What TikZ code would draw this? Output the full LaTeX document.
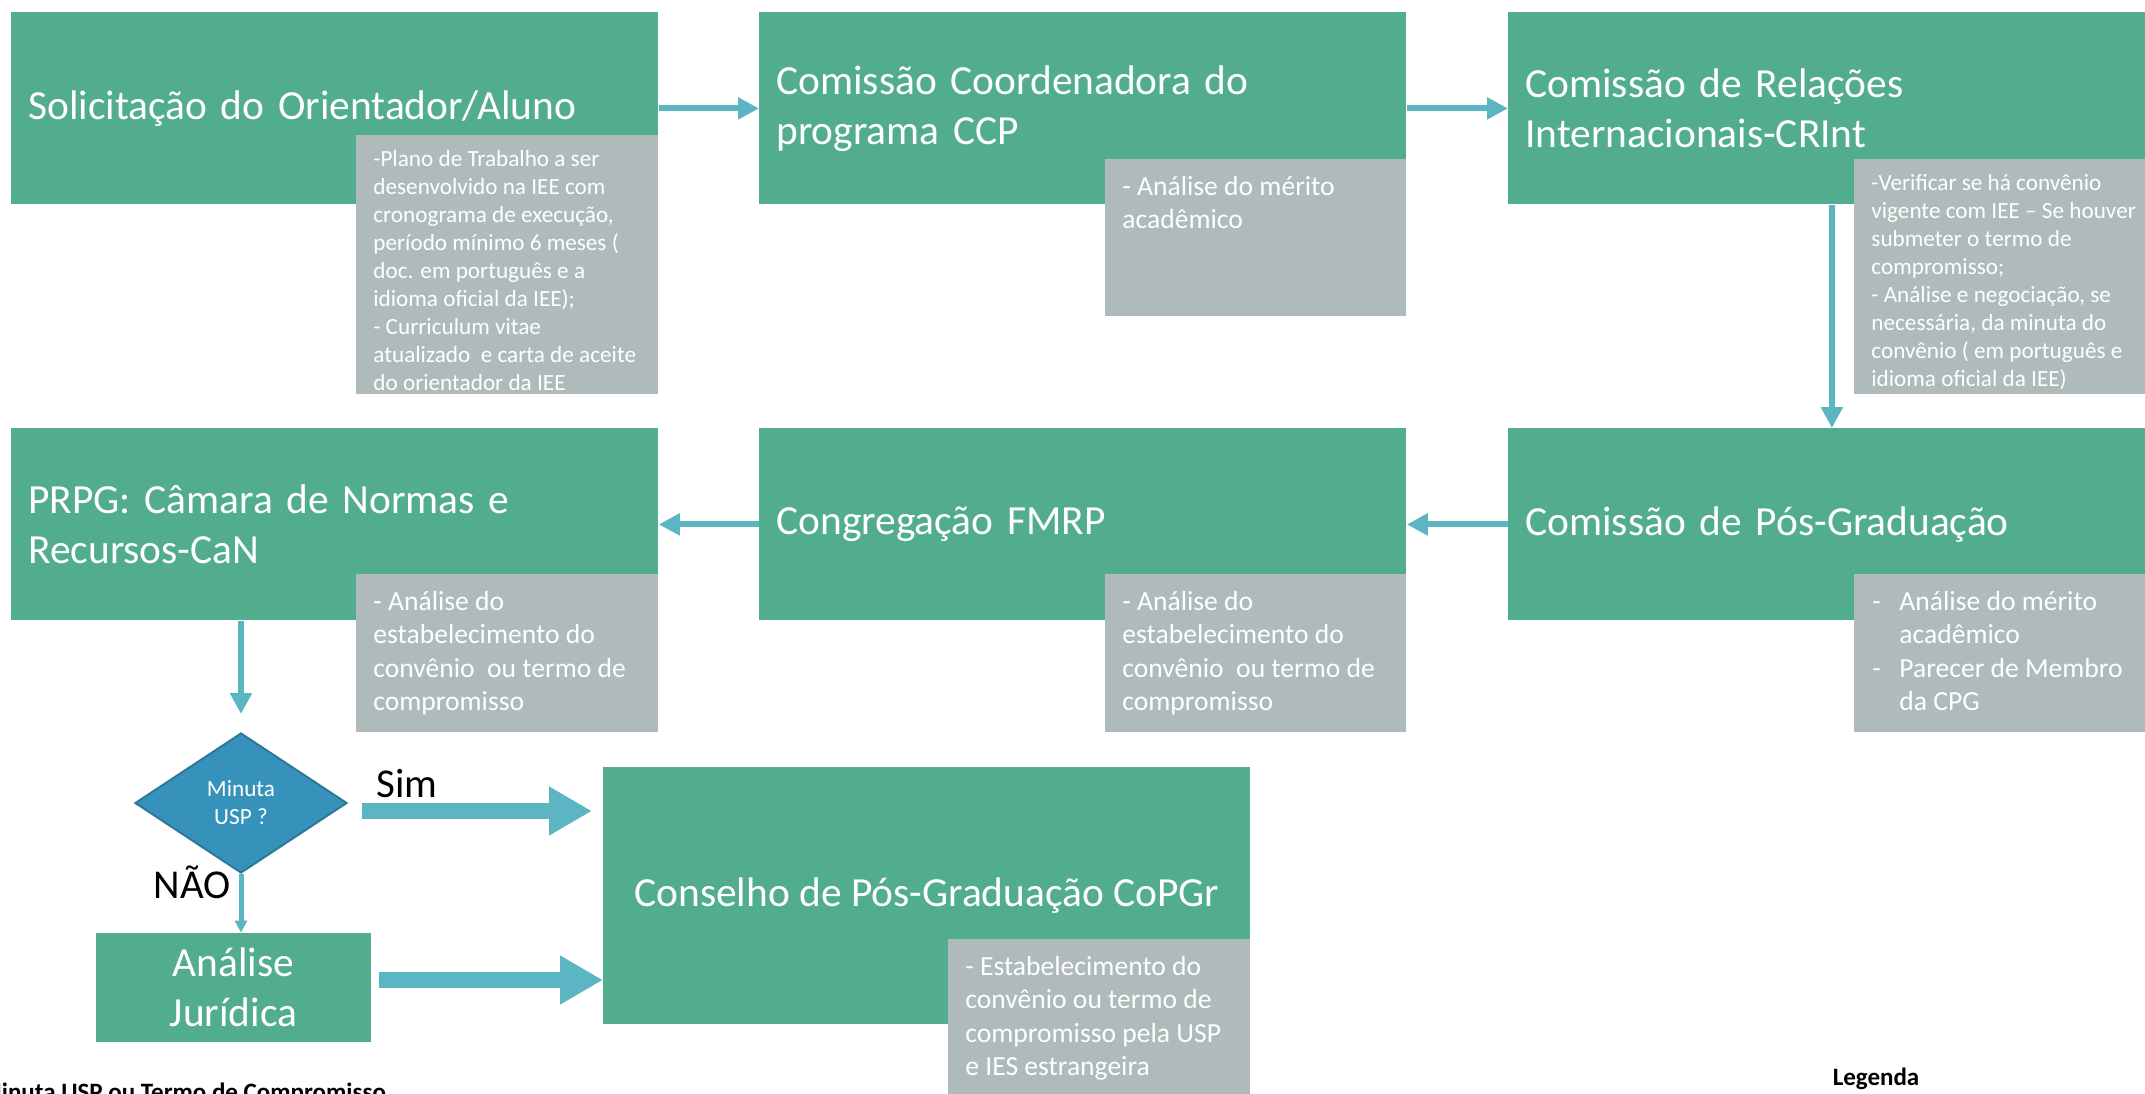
\documentclass[tikz,border=0pt]{standalone}
\usepackage{fontspec}
\setmainfont{Carlito}
\usetikzlibrary{shapes.geometric}
\usetikzlibrary{arrows.meta}
\usepackage{xcolor}

\definecolor{boxgreen}{RGB}{82,173,143}
\definecolor{notegray}{RGB}{175,186,186}
\definecolor{flowblue}{RGB}{91,181,194}
\definecolor{askblue}{RGB}{54,146,186}
\definecolor{askedge}{RGB}{44,120,154}

\newcommand{\dashitem}{\makebox[13.5pt][l]{-}}
\newcommand{\dashgap}{\hspace*{13.5pt}}

\tikzset{
  stage/.style={fill=boxgreen, text=white, anchor=north west, align=left,
    inner xsep=8.5pt, inner ysep=0pt, minimum height=96pt,
    font=\fontsize{20.7}{25}\selectfont},
  notebox/.style={fill=notegray, anchor=north west, inner sep=0pt},
  notetext/.style={text=white, anchor=north west, align=left,
    inner xsep=8.5pt, inner ysep=7.5pt},
  smallnote/.style={font=\fontsize{11.6}{14}\selectfont},
  largenote/.style={inner ysep=8.3pt, font=\fontsize{13.8}{16.8}\selectfont},
  flow/.style={draw=flowblue, line width=3pt,
    -{Triangle[length=10.5pt,width=10.5pt]}},
  bigflow/.style={draw=flowblue, line width=8pt,
    -{Triangle[length=21.5pt,width=23pt]}},
  answer/.style={anchor=base, font=\fontsize{20.5}{24}\selectfont},
  legendtext/.style={font=\fontsize{12.5}{15}\selectfont\bfseries}
}

\begin{document}
\begin{tikzpicture}[x=0.5pt,y=-0.5pt]
\useasboundingbox (0,0) rectangle (2145,1093);
\clip (0,0) rectangle (2145,1093);

% first row
\node[stage, text width=306.5pt] (b1) at (11,12) {Solicitação do Orientador/Aluno};
\node[stage, text width=306.5pt] (b2) at (759,12) {Comissão Coordenadora do\\programa CCP};
\node[stage, text width=306.5pt] (b3) at (1508,12) {Comissão de Relações\\Internacionais-CRInt};

\node[notebox, minimum width=151pt, minimum height=129.5pt] (g1) at (356,135) {};
\node[notetext, smallnote] (g1t) at (g1.north west) {-Plano de Trabalho a ser\\desenvolvido na IEE com\\cronograma de execução,\\período mínimo 6 meses (\\doc. em português e a\\idioma oficial da IEE);\\- Curriculum vitae\\atualizado\ \ e carta de aceite\\do orientador da IEE};
\node[notebox, minimum width=150.5pt, minimum height=78.5pt] (g2) at (1105,159) {};
\node[notetext, largenote] (g2t) at (g2.north west) {- Análise do mérito\\acadêmico};
\node[notebox, minimum width=150.5pt, minimum height=117.5pt] (g3) at (1854,159) {};
\node[notetext, smallnote] (g3t) at (g3.north west) {-Verificar se há convênio\\vigente com IEE – Se houver\\submeter o termo de\\compromisso;\\- Análise e negociação, se\\necessária, da minuta do\\convênio ( em português e\\idioma oficial da IEE)};

% second row
\node[stage, text width=306.5pt] (b4) at (11,428) {PRPG: Câmara de Normas e\\Recursos-CaN};
\node[stage, text width=306.5pt] (b5) at (759,428) {Congregação FMRP};
\node[stage, text width=306.5pt] (b6) at (1508,428) {Comissão de Pós-Graduação};

\node[notebox, minimum width=151pt, minimum height=79pt] (g4) at (356,574) {};
\node[notetext, largenote] (g4t) at (g4.north west) {- Análise do\\estabelecimento do\\convênio\ \ ou termo de\\compromisso};
\node[notebox, minimum width=150.5pt, minimum height=79pt] (g5) at (1105,574) {};
\node[notetext, largenote] (g5t) at (g5.north west) {- Análise do\\estabelecimento do\\convênio\ \ ou termo de\\compromisso};
\node[notebox, minimum width=150.5pt, minimum height=79pt] (g6) at (1854,574) {};
\node[notetext, largenote, inner xsep=9pt] (g6t) at (g6.north west) {\dashitem Análise do mérito\\\dashgap acadêmico\\\dashitem Parecer de Membro\\\dashgap da CPG};

% decision and last stage
\node[diamond, fill=askblue, draw=askedge, line width=1pt, text=white, align=center,
  inner sep=0pt, minimum width=106pt, minimum height=70pt, smallnote] (ask) at (241,803) {Minuta\\USP ?};
\node[stage, anchor=center, align=center, inner sep=0pt,
  minimum width=137.5pt, minimum height=54.5pt] (jur) at (233.5,987.5) {Análise\\Jurídica};
\node[stage, align=center, inner sep=0pt,
  minimum width=323.5pt, minimum height=128.5pt] (cop) at (603,767) {Conselho de Pós-Graduação CoPGr};
\node[notebox, minimum width=151pt, minimum height=79pt] (g7) at (948,939) {};
\node[notetext, largenote] (g7t) at (g7.north west) {- Estabelecimento do\\convênio ou termo de\\compromisso pela USP\\e IES estrangeira};

\node[answer] (sim) at (407,797) {Sim};
\node[answer] (nao) at (192,898) {NÃO};

\node[legendtext, anchor=base west] (minuta) at (-27,1100) {Minuta USP ou Termo de Compromisso};
\node[legendtext, anchor=base] (legenda) at (1876,1085) {Legenda};

% connectors
\draw[flow] (b1.east) -- (b2.west);
\draw[flow] (b2.east) -- (b3.west);
\draw[flow] (b3.south) -- (b6.north);
\draw[flow] (b6.west) -- (b5.east);
\draw[flow] (b5.west) -- (b4.east);
\draw[flow, shorten >=9pt] (b4.south -| ask.north) -- (ask.north);
\draw[flow, line width=2.5pt, -{Triangle[length=6pt,width=6pt]}] (ask.south) -- (ask.south |- jur.north);
\draw[bigflow, shorten >=5.5pt] ([xshift=7pt,yshift=-4pt]ask.east) -- ([yshift=-4pt]ask.east -| cop.west);
\draw[bigflow] ([xshift=4pt,yshift=3.75pt]jur.east) -- ([yshift=3.75pt]jur.east -| cop.west);
\end{tikzpicture}
\end{document}
